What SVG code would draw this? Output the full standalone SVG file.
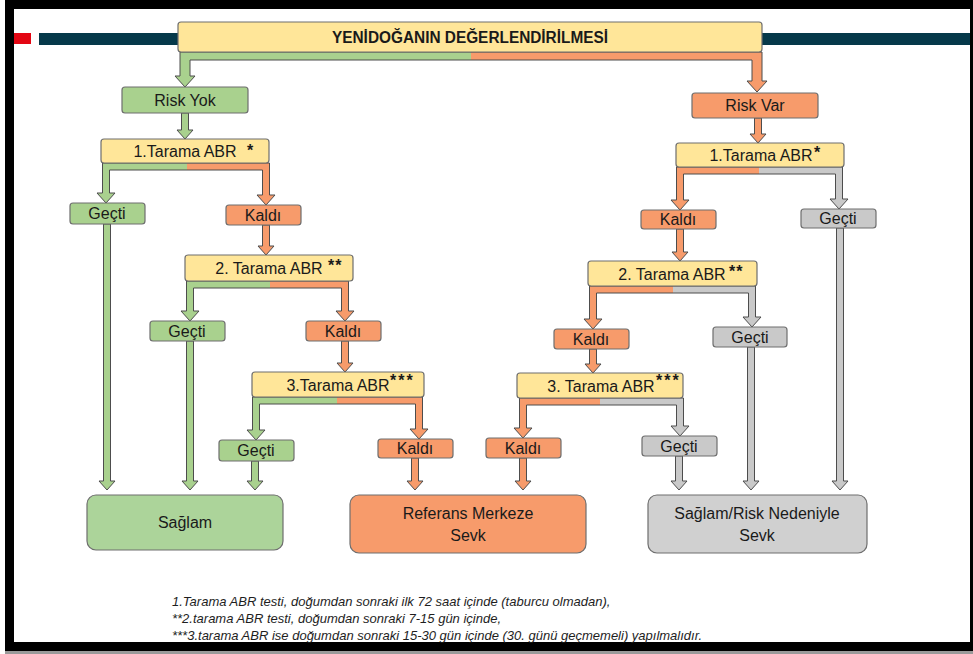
<svg xmlns="http://www.w3.org/2000/svg" width="973" height="654" viewBox="0 0 973 654">
<style>
.bx{stroke:#6e6e6e;stroke-width:1.2}
.g{fill:#a9d18e}.o{fill:#f79b6b}.y{fill:#ffe699}.s{fill:#c9c9c9}.sb{fill:#d0d0d0}.gb{fill:#acd49a}
.t{font-family:"Liberation Sans",Arial,sans-serif;font-size:16px;fill:#1a1a1a;text-anchor:middle}
.h{font-family:"Liberation Sans",Arial,sans-serif;font-size:16px;font-weight:bold;fill:#1a1a1a;text-anchor:middle}
.a{font-family:"Liberation Sans",Arial,sans-serif;font-size:16px;font-weight:bold;fill:#1a1a1a}
.f{font-family:"Liberation Sans",Arial,sans-serif;font-size:13px;font-style:italic;fill:#1e1e1e}
#connectors path,#connectors polygon{stroke:#4d4d4d;stroke-width:1;stroke-linejoin:miter}
</style>
<rect x="0" y="0" width="973" height="654" fill="#ffffff"/>
<!-- frame -->
<rect x="5" y="0" width="968" height="9" fill="#000"/>
<rect x="5" y="0" width="9" height="651" fill="#000"/>
<rect x="5" y="642" width="968" height="9" fill="#000"/>
<rect x="970" y="0" width="3" height="651" fill="#000"/>
<rect x="5" y="651" width="968" height="3" fill="#9a9a9a"/>
<!-- title bar decoration -->
<rect x="14" y="33" width="17" height="11" fill="#e30613"/>
<rect x="39" y="33" width="140" height="12" fill="#06394a"/>
<rect x="761" y="33" width="209" height="12" fill="#06394a"/>

<g id="connectors">
<path class="g" d="M471,52 L180,52 L180,76 L175,76 L185,87 L195,76 L190,76 L190,60 L471,60"/>
<path class="o" d="M471,52 L762,52 L762,81 L767,81 L757,92 L747,81 L752,81 L752,60 L471,60"/>
<path class="g" d="M187,163 L102.5,163 L102.5,193 L97,193 L106,203 L115,193 L109.5,193 L109.5,170 L187,170"/>
<path class="o" d="M187,163 L269.5,163 L269.5,195 L275,195 L266,205 L257,195 L262.5,195 L262.5,170 L187,170"/>
<path class="g" d="M270,281 L186.5,281 L186.5,311 L181,311 L190,321 L199,311 L193.5,311 L193.5,288 L270,288"/>
<path class="o" d="M270,281 L348.5,281 L348.5,311 L354,311 L345,321 L336,311 L341.5,311 L341.5,288 L270,288"/>
<path class="g" d="M337,397 L252.5,397 L252.5,430 L247,430 L256,440 L265,430 L259.5,430 L259.5,404 L337,404"/>
<path class="o" d="M337,397 L422.5,397 L422.5,429 L428,429 L419,439 L410,429 L415.5,429 L415.5,404 L337,404"/>
<path class="o" d="M759,167 L676.5,167 L676.5,200 L671,200 L680,210 L689,200 L683.5,200 L683.5,174 L759,174"/>
<path class="s" d="M759,167 L842.5,167 L842.5,199 L848,199 L839,209 L830,199 L835.5,199 L835.5,174 L759,174"/>
<path class="o" d="M673,286 L589.5,286 L589.5,319 L584,319 L593,329 L602,319 L596.5,319 L596.5,293 L673,293"/>
<path class="s" d="M673,286 L755.5,286 L755.5,317 L761,317 L752,327 L743,317 L748.5,317 L748.5,293 L673,293"/>
<path class="o" d="M600,398 L519.5,398 L519.5,428 L514,428 L523,438 L532,428 L526.5,428 L526.5,405 L600,405"/>
<path class="s" d="M600,398 L683.5,398 L683.5,426 L689,426 L680,436 L671,426 L676.5,426 L676.5,405 L600,405"/>
<polygon class="g" points="181.5,113 188.5,113 188.5,130 193,130 185,139 177,130 181.5,130"/>
<polygon class="o" points="262.5,225 269.5,225 269.5,246 274,246 266,255 258,246 262.5,246"/>
<polygon class="o" points="341.5,341 348.5,341 348.5,363 353,363 345,372 337,363 341.5,363"/>
<polygon class="o" points="754.5,118 761.5,118 761.5,134 766,134 758,143 750,134 754.5,134"/>
<polygon class="o" points="676.5,229 683.5,229 683.5,252 688,252 680,261 672,252 676.5,252"/>
<polygon class="o" points="589.5,349 596.5,349 596.5,364 601,364 593,373 585,364 589.5,364"/>
<polygon class="g" points="103.5,224 110.5,224 110.5,481 115,481 107,490 99,481 103.5,481"/>
<polygon class="g" points="186.5,341 193.5,341 193.5,481 198,481 190,490 182,481 186.5,481"/>
<polygon class="g" points="251.5,461 258.5,461 258.5,481 263,481 255,490 247,481 251.5,481"/>
<polygon class="o" points="411.5,458 418.5,458 418.5,481 423,481 415,490 407,481 411.5,481"/>
<polygon class="o" points="519.5,458 526.5,458 526.5,481 531,481 523,490 515,481 519.5,481"/>
<polygon class="s" points="675.5,456 682.5,456 682.5,481 687,481 679,490 671,481 675.5,481"/>
<polygon class="s" points="747.5,347 754.5,347 754.5,481 759,481 751,490 743,481 747.5,481"/>
<polygon class="s" points="836.5,228 843.5,228 843.5,481 848,481 840,490 832,481 836.5,481"/>
</g>

<g id="header"><rect class="bx y" x="178" y="22" width="584" height="30" rx="3"/><text class="h" x="470" y="43" textLength="276" lengthAdjust="spacingAndGlyphs">YENİDOĞANIN DEĞERLENDİRİLMESİ</text></g>
<g id="riskyok"><rect class="bx g" x="122" y="87" width="126" height="26" rx="3"/><text class="t" x="185" y="106">Risk Yok</text></g>
<g id="riskvar"><rect class="bx o" x="692" y="93" width="126" height="25" rx="3"/><text class="t" x="755" y="111">Risk Var</text></g>
<g id="tarama1L"><rect class="bx y" x="101" y="139" width="168" height="24" rx="3"/><text class="t" x="185" y="157">1.Tarama ABR</text><text class="a" x="247" y="156">*</text></g>
<g id="tarama1R"><rect class="bx y" x="676" y="143" width="168" height="24" rx="3"/><text class="t" x="761" y="161">1.Tarama ABR</text><text class="a" x="814" y="158">*</text></g>
<g id="gectiL1"><rect class="bx g" x="70" y="203" width="75" height="21" rx="3"/><text class="t" x="107" y="219">Geçti</text></g>
<g id="kaldiL1"><rect class="bx o" x="226" y="205" width="75" height="20" rx="3"/><text class="t" x="263" y="221">Kaldı</text></g>
<g id="tarama2L"><rect class="bx y" x="185" y="255" width="168" height="26" rx="3"/><text class="t" x="269" y="274">2. Tarama ABR</text><text class="a" x="328" y="271" letter-spacing="1">**</text></g>
<g id="gectiL2"><rect class="bx g" x="150" y="321" width="75" height="20" rx="3"/><text class="t" x="187" y="337">Geçti</text></g>
<g id="kaldiL2"><rect class="bx o" x="306" y="321" width="75" height="20" rx="3"/><text class="t" x="343" y="337">Kaldı</text></g>
<g id="tarama3L"><rect class="bx y" x="252" y="372" width="172" height="25" rx="3"/><text class="t" x="338" y="391">3.Tarama ABR</text><text class="a" x="390" y="386" letter-spacing="2">***</text></g>
<g id="gectiL3"><rect class="bx g" x="219" y="440" width="75" height="21" rx="3"/><text class="t" x="256" y="456">Geçti</text></g>
<g id="kaldiL3"><rect class="bx o" x="378" y="439" width="75" height="19" rx="3"/><text class="t" x="415" y="454">Kaldı</text></g>
<g id="kaldiR1"><rect class="bx o" x="641" y="210" width="75" height="19" rx="3"/><text class="t" x="678" y="225">Kaldı</text></g>
<g id="gectiR1"><rect class="bx s" x="801" y="209" width="75" height="19" rx="3"/><text class="t" x="838" y="224">Geçti</text></g>
<g id="tarama2R"><rect class="bx y" x="588" y="261" width="169" height="25" rx="3"/><text class="t" x="672" y="280">2. Tarama ABR</text><text class="a" x="729" y="277" letter-spacing="1">**</text></g>
<g id="kaldiR2"><rect class="bx o" x="554" y="329" width="75" height="20" rx="3"/><text class="t" x="591" y="345">Kaldı</text></g>
<g id="gectiR2"><rect class="bx s" x="713" y="327" width="74" height="20" rx="3"/><text class="t" x="750" y="343">Geçti</text></g>
<g id="tarama3R"><rect class="bx y" x="517" y="373" width="166" height="25" rx="3"/><text class="t" x="601" y="392">3. Tarama ABR</text><text class="a" x="656" y="386" letter-spacing="2">***</text></g>
<g id="kaldiR3"><rect class="bx o" x="486" y="438" width="75" height="20" rx="3"/><text class="t" x="523" y="454">Kaldı</text></g>
<g id="gectiR3"><rect class="bx s" x="642" y="436" width="75" height="20" rx="3"/><text class="t" x="679" y="452">Geçti</text></g>
<g id="saglam"><rect class="bx gb" x="87" y="495" width="196" height="55" rx="9"/><text class="t" x="185" y="528">Sağlam</text></g>
<g id="referans"><rect class="bx o" x="350" y="495" width="236" height="58" rx="9"/><text class="t" x="468" y="519">Referans Merkeze</text><text class="t" x="468" y="541">Sevk</text></g>
<g id="riskSevk"><rect class="bx sb" x="648" y="495" width="219" height="58" rx="9"/><text class="t" x="757" y="519">Sağlam/Risk Nedeniyle</text><text class="t" x="757" y="541">Sevk</text></g>

<g id="footnotes">
<text class="f" x="172" y="606">1.Tarama ABR testi, doğumdan sonraki ilk 72 saat içinde (taburcu olmadan),</text>
<text class="f" x="172" y="623">**2.tarama ABR testi, doğumdan sonraki 7-15 gün içinde,</text>
<text class="f" x="172" y="640">***3.tarama ABR ise doğumdan sonraki 15-30 gün içinde (30. günü geçmemeli) yapılmalıdır.</text>
</g>
</svg>
